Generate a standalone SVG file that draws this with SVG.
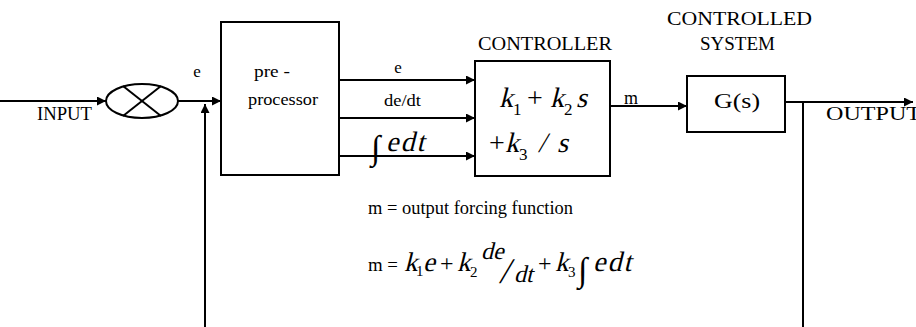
<svg xmlns="http://www.w3.org/2000/svg" width="916" height="327" viewBox="0 0 916 327" font-family="'Liberation Serif', 'Times New Roman', serif">
<defs>
<style>
.ln{stroke:#000;stroke-width:2;fill:none}
.bx{stroke:#000;stroke-width:2;fill:#fff}
text{fill:#000}
</style>
<marker id="ah" viewBox="0 0 10 10" refX="10" refY="5" markerWidth="9" markerHeight="9" markerUnits="userSpaceOnUse" orient="auto"><path d="M0,0 L10,5 L0,10 z" fill="#000"/></marker>
</defs>
<rect width="916" height="327" fill="#fff"/>
<g id="connectors">
<line class="ln" x1="0" y1="101" x2="106" y2="101" marker-end="url(#ah)"/>
<line class="ln" x1="178" y1="101" x2="221" y2="101" marker-end="url(#ah)"/>
<line class="ln" x1="205" y1="327" x2="205" y2="104" marker-end="url(#ah)"/>
<line class="ln" x1="339" y1="80" x2="475" y2="80" marker-end="url(#ah)"/>
<line class="ln" x1="339" y1="118" x2="475" y2="118" marker-end="url(#ah)"/>
<line class="ln" x1="339" y1="156" x2="475" y2="156" marker-end="url(#ah)"/>
<line class="ln" x1="610" y1="106" x2="687" y2="106" marker-end="url(#ah)"/>
<line class="ln" x1="785" y1="102" x2="913" y2="102" marker-end="url(#ah)"/>
<line class="ln" x1="803" y1="102" x2="803" y2="327"/>
<text x="197" y="77" text-anchor="middle" font-size="17">e</text>
<text x="398" y="73" text-anchor="middle" font-size="17">e</text>
<text x="384" y="106" font-size="16" textLength="37" lengthAdjust="spacingAndGlyphs">de/dt</text>
<text x="371" y="159" font-size="34">∫</text>
<text transform="translate(386,151) skewX(-14)" font-size="28" letter-spacing="2">edt</text>
<text x="631" y="104" text-anchor="middle" font-size="18">m</text>
</g>
<g id="sum">
<ellipse class="ln" cx="142" cy="101" rx="36" ry="17"/>
<line class="ln" x1="123" y1="86" x2="161" y2="116"/>
<line class="ln" x1="123" y1="116" x2="161" y2="86"/>
</g>
<g id="preprocessor">
<rect class="bx" x="221" y="22" width="118" height="153"/>
<text x="254" y="77" font-size="17" textLength="36" lengthAdjust="spacingAndGlyphs">pre -</text>
<text x="248" y="105" font-size="17" textLength="70" lengthAdjust="spacingAndGlyphs">processor</text>
</g>
<g id="controller">
<rect class="bx" x="475" y="61" width="135" height="115"/>
<text x="478" y="50" font-size="18" textLength="134" lengthAdjust="spacingAndGlyphs">CONTROLLER</text>
<text transform="translate(499,107) skewX(-14)" font-size="28">k</text>
<text x="513" y="115" font-size="17">1</text>
<text x="527" y="107" font-size="28">+</text>
<text transform="translate(550,107) skewX(-14)" font-size="28">k</text>
<text x="564" y="115" font-size="17">2</text>
<text transform="translate(576,107) skewX(-14)" font-size="28">s</text>
<text x="489" y="152" font-size="28">+</text>
<text transform="translate(505,152) skewX(-14)" font-size="28">k</text>
<text x="519" y="160" font-size="17">3</text>
<text transform="translate(538,152) skewX(-14)" font-size="28">/</text>
<text transform="translate(557,152) skewX(-14)" font-size="28">s</text>
</g>
<g id="system">
<rect class="bx" x="687" y="76" width="98" height="56"/>
<text x="667" y="25" font-size="18" textLength="145" lengthAdjust="spacingAndGlyphs">CONTROLLED</text>
<text x="700" y="50" font-size="18" textLength="75" lengthAdjust="spacingAndGlyphs">SYSTEM</text>
<text x="714" y="108" font-size="21" textLength="46" lengthAdjust="spacingAndGlyphs">G(s)</text>
</g>
<g id="labels">
<text x="37" y="120" font-size="18" textLength="55" lengthAdjust="spacingAndGlyphs">INPUT</text>
<text x="826" y="120" font-size="18" textLength="95" lengthAdjust="spacingAndGlyphs">OUTPUT</text>
<text x="368" y="214" font-size="18" textLength="205" lengthAdjust="spacingAndGlyphs">m = output forcing function</text>
</g>
<g id="equation">
<text x="368" y="271" font-size="19" textLength="30" lengthAdjust="spacingAndGlyphs">m =</text>
<text transform="translate(404,271) skewX(-14)" font-size="27">k</text>
<text x="416" y="276" font-size="15">1</text>
<text transform="translate(423,271) skewX(-14)" font-size="27">e</text>
<text x="440" y="271" font-size="24">+</text>
<text transform="translate(457,271) skewX(-14)" font-size="27">k</text>
<text x="470" y="277" font-size="15">2</text>
<text transform="translate(481,259) skewX(-14)" font-size="24">de</text>
<text transform="translate(499,283) skewX(-14)" font-size="36">/</text>
<text transform="translate(514,282) skewX(-14)" font-size="24">dt</text>
<text x="538" y="271" font-size="24">+</text>
<text transform="translate(555,271) skewX(-14)" font-size="27">k</text>
<text x="568" y="277" font-size="15">3</text>
<text x="578" y="281" font-size="34">∫</text>
<text transform="translate(593,271) skewX(-14)" font-size="28" letter-spacing="2">edt</text>
</g>
</svg>
